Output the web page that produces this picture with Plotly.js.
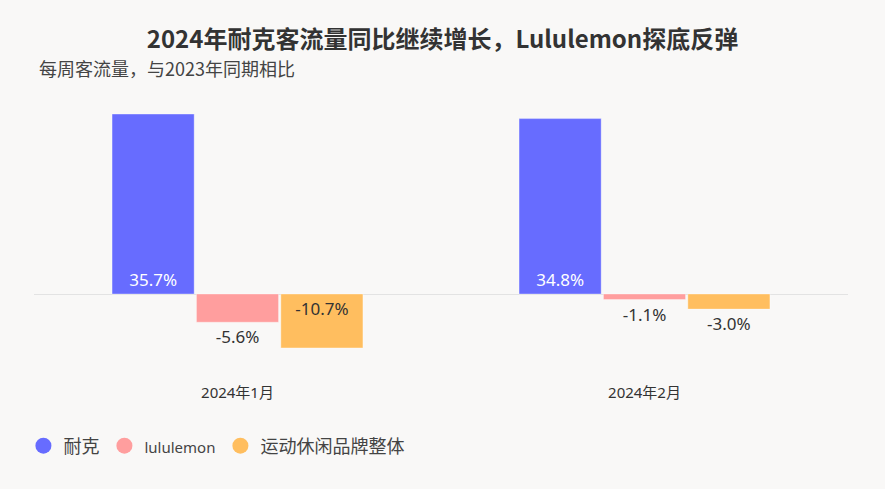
<!DOCTYPE html>
<html>
<head>
<meta charset="utf-8">
<script src="https://cdn.plot.ly/plotly-3.0.1.min.js"></script>
<style>
  html, body { margin: 0; padding: 0; background: #f9f8f7; }
  #chart { width: 885px; height: 489px; }
</style>
</head>
<body>
<div id="chart"></div>
<script>
const months = ["2024年1月", "2024年2月"];
const seriesNames = ["耐克", "lululemon", "运动休闲品牌整体"];
const nike = [35.7, 34.8];
const lululemon = [-5.6, -1.1];
const athleisure = [-10.7, -3.0];

const colors = ["#676cff", "#ff9e9e", "#ffbe5f"];
const font = "Noto Sans, Noto Sans CJK SC, sans-serif";

function label(v)
{
  return v.toFixed(1) + "%";
}

function barTrace(name, values, color, positions, textColors)
{
  return {
    type: "bar",
    name,
    x: months,
    y: values,
    text: values.map(label),
    textposition: positions,
    insidetextanchor: "start",
    textangle: 0,
    cliponaxis: false,
    constraintext: "none",
    textfont: {family: font, size: 17, color: textColors},
    marker: {color, line: {width: 1, color: "rgba(255,255,255,0.35)"}},
    showlegend: false,
    hoverinfo: "skip"
  };
}

// dummy traces so the legend shows circles
function legendTrace(name, color)
{
  return {
    type: "scatter",
    mode: "markers",
    name,
    x: [null],
    y: [null],
    marker: {color, size: 17, symbol: "circle"},
    hoverinfo: "skip"
  };
}

const traces = [
  barTrace(seriesNames[0], nike, colors[0], ["inside", "inside"], ["#ffffff", "#ffffff"]),
  barTrace(seriesNames[1], lululemon, colors[1], ["outside", "outside"], ["#333333", "#333333"]),
  barTrace(seriesNames[2], athleisure, colors[2], ["inside", "outside"], ["#333333", "#333333"]),
  legendTrace(seriesNames[0], colors[0]),
  legendTrace('<span style="font-size:15px">' + seriesNames[1] + '</span>', colors[1]),
  legendTrace(seriesNames[2], colors[2])
];

const layout = {
  width: 885,
  height: 489,
  paper_bgcolor: "#f9f8f7",
  plot_bgcolor: "#f9f8f7",
  font: {family: font, color: "#333"},
  margin: {l: 34, r: 37, t: 100, b: 107},
  barmode: "group",
  bargap: 0.378,
  bargroupgap: 0.027,
  title: {
    text: "<b>2024年耐克客流量同比继续增长，Lululemon探底反弹</b>",
    font: {family: "Noto Sans CJK SC, sans-serif", size: 24, color: "#333"},
    xref: "container",
    x: 0.5,
    xanchor: "center",
    yref: "container",
    y: 0.918,
    yanchor: "middle"
  },
  annotations: [{
    text: "每周客流量，与2023年同期相比",
    xref: "paper",
    yref: "paper",
    x: 0.004,
    y: 1.113,
    xanchor: "left",
    yanchor: "middle",
    showarrow: false,
    font: {family: "Noto Sans CJK SC, sans-serif", size: 18, color: "#444"}
  }],
  xaxis: {
    type: "category",
    showgrid: false,
    showline: false,
    ticks: "",
    tickfont: {family: font, size: 15, color: "#333"},
    fixedrange: true
  },
  yaxis: {
    range: [-17.46, 38.49],
    showgrid: false,
    showticklabels: false,
    zeroline: true,
    zerolinecolor: "#e3e3e3",
    zerolinewidth: 1,
    fixedrange: true
  },
  legend: {
    orientation: "h",
    x: -0.013,
    xanchor: "left",
    y: -0.227,
    yanchor: "middle",
    font: {family: font, size: 18, color: "#444"},
    itemclick: false,
    itemdoubleclick: false
  }
};

Plotly.newPlot("chart", traces, layout, {displayModeBar: false, responsive: false});
</script>
</body>
</html>
